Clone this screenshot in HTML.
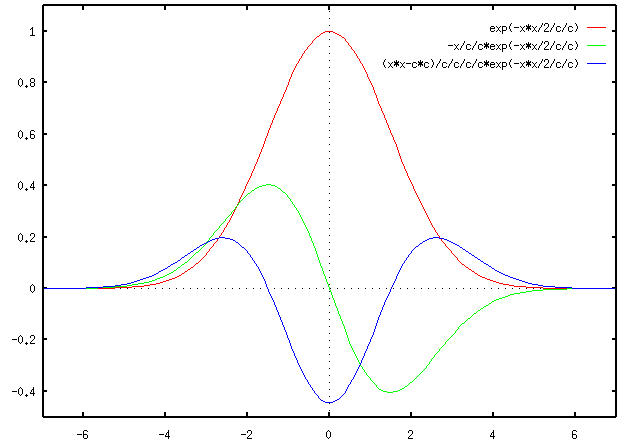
<!DOCTYPE html>
<html lang="en">
<head>
<meta charset="utf-8">
<title>Gaussian and its derivatives (gnuplot)</title>
<style>
html,body{margin:0;padding:0;background:#fff;}
body{width:626px;height:442px;overflow:hidden;font-family:"Liberation Mono",monospace;}
svg{display:block;}
.lbl text{font-family:"Liberation Mono",monospace;font-size:10px;fill:#000;fill-opacity:0;}
</style>
</head>
<body>
<svg width="626" height="442" viewBox="0 0 626 442" shape-rendering="crispEdges" role="img" aria-label="Plot of exp(-x*x/2/c/c) and its first and second derivatives for c=1.5">
<rect width="626" height="442" fill="#fff"/>
<g class="lbl">
<text x="36" y="35" text-anchor="end">1</text>
<text x="36" y="86" text-anchor="end">0.8</text>
<text x="36" y="138" text-anchor="end">0.6</text>
<text x="36" y="189" text-anchor="end">0.4</text>
<text x="36" y="241" text-anchor="end">0.2</text>
<text x="36" y="292" text-anchor="end">0</text>
<text x="36" y="343" text-anchor="end">-0.2</text>
<text x="36" y="395" text-anchor="end">-0.4</text>
<text x="83" y="438" text-anchor="middle">-6</text>
<text x="165" y="438" text-anchor="middle">-4</text>
<text x="247" y="438" text-anchor="middle">-2</text>
<text x="329" y="438" text-anchor="middle">0</text>
<text x="411" y="438" text-anchor="middle">2</text>
<text x="493" y="438" text-anchor="middle">4</text>
<text x="575" y="438" text-anchor="middle">6</text>
<text x="580" y="31" text-anchor="end">exp(-x*x/2/c/c)</text>
<text x="580" y="49" text-anchor="end">-x/c/c*exp(-x*x/2/c/c)</text>
<text x="580" y="67" text-anchor="end">(x*x-c*c)/c/c/c/c*exp(-x*x/2/c/c)</text>
</g>
<path id="curve-red" fill="#f00" d="M587 27h19v1h-19zM325 31h8v1h-8zM323 32h2v1h-2zM333 32h2v1h-2zM321 33h2v1h-2zM335 33h2v1h-2zM320 34h1v1h-1zM337 34h2v1h-2zM319 35h1v1h-1zM339 35h2v1h-2zM317 36h2v1h-2zM341 36h1v1h-1zM316 37h1v1h-1zM342 37h2v1h-2zM315 38h1v1h-1zM344 38h1v1h-1zM314 39h1v1h-1zM345 39h1v1h-1zM313 40h1v1h-1zM345 40h1v1h-1zM312 41h1v1h-1zM346 41h1v1h-1zM312 42h1v1h-1zM347 42h1v1h-1zM311 43h1v1h-1zM348 43h1v1h-1zM310 44h1v1h-1zM348 44h1v1h-1zM309 45h1v1h-1zM349 45h1v1h-1zM308 46h1v1h-1zM350 46h1v1h-1zM307 47h1v1h-1zM351 47h1v1h-1zM307 48h1v1h-1zM351 48h1v1h-1zM306 49h1v1h-1zM352 49h1v1h-1zM305 50h1v1h-1zM353 50h1v1h-1zM304 51h1v1h-1zM354 51h1v1h-1zM304 52h1v1h-1zM354 52h1v1h-1zM303 53h1v1h-1zM355 53h1v1h-1zM302 54h1v1h-1zM356 54h1v1h-1zM302 55h1v1h-1zM356 55h1v1h-1zM301 56h1v1h-1zM357 56h1v1h-1zM301 57h1v1h-1zM357 57h1v1h-1zM300 58h1v1h-1zM358 58h1v1h-1zM299 59h1v1h-1zM359 59h1v1h-1zM299 60h1v1h-1zM359 60h1v1h-1zM298 61h1v1h-1zM360 61h1v1h-1zM298 62h1v1h-1zM360 62h1v1h-1zM297 63h1v1h-1zM361 63h1v1h-1zM296 64h1v1h-1zM362 64h1v1h-1zM296 65h1v1h-1zM362 65h1v1h-1zM295 66h1v1h-1zM363 66h1v1h-1zM295 67h1v1h-1zM363 67h1v1h-1zM294 68h1v1h-1zM364 68h1v1h-1zM294 69h1v1h-1zM364 69h1v1h-1zM293 70h1v1h-1zM365 70h1v1h-1zM293 71h1v1h-1zM365 71h1v1h-1zM292 72h1v1h-1zM366 72h1v1h-1zM292 73h1v1h-1zM366 73h1v1h-1zM291 74h1v1h-1zM367 74h1v1h-1zM291 75h1v1h-1zM367 75h1v1h-1zM291 76h1v1h-1zM367 76h1v1h-1zM290 77h1v1h-1zM368 77h1v1h-1zM290 78h1v1h-1zM368 78h1v1h-1zM289 79h1v1h-1zM369 79h1v1h-1zM289 80h1v1h-1zM369 80h1v1h-1zM289 81h1v1h-1zM370 81h1v1h-1zM288 82h1v1h-1zM370 82h1v1h-1zM288 83h1v1h-1zM371 83h1v1h-1zM288 84h1v1h-1zM371 84h1v1h-1zM287 85h1v1h-1zM372 85h1v1h-1zM287 86h1v1h-1zM372 86h1v1h-1zM286 87h1v1h-1zM373 87h1v1h-1zM286 88h1v1h-1zM373 88h1v1h-1zM286 89h1v1h-1zM373 89h1v1h-1zM285 90h1v1h-1zM374 90h1v1h-1zM285 91h1v1h-1zM374 91h1v1h-1zM284 92h1v1h-1zM374 92h1v1h-1zM284 93h1v1h-1zM375 93h1v1h-1zM283 94h1v1h-1zM375 94h1v1h-1zM283 95h1v1h-1zM376 95h1v1h-1zM283 96h1v1h-1zM376 96h1v1h-1zM282 97h1v1h-1zM376 97h1v1h-1zM282 98h1v1h-1zM377 98h1v1h-1zM281 99h1v1h-1zM377 99h1v1h-1zM281 100h1v1h-1zM377 100h1v1h-1zM280 101h1v1h-1zM378 101h1v1h-1zM280 102h1v1h-1zM378 102h1v1h-1zM280 103h1v1h-1zM378 103h1v1h-1zM279 104h1v1h-1zM379 104h1v1h-1zM279 105h1v1h-1zM379 105h1v1h-1zM278 106h1v1h-1zM380 106h1v1h-1zM278 107h1v1h-1zM380 107h1v1h-1zM277 108h1v1h-1zM381 108h1v1h-1zM277 109h1v1h-1zM381 109h1v1h-1zM277 110h1v1h-1zM381 110h1v1h-1zM276 111h1v1h-1zM382 111h1v1h-1zM276 112h1v1h-1zM382 112h1v1h-1zM275 113h1v1h-1zM383 113h1v1h-1zM275 114h1v1h-1zM383 114h1v1h-1zM274 115h1v1h-1zM384 115h1v1h-1zM274 116h1v1h-1zM384 116h1v1h-1zM274 117h1v1h-1zM384 117h1v1h-1zM273 118h1v1h-1zM385 118h1v1h-1zM273 119h1v1h-1zM385 119h1v1h-1zM272 120h1v1h-1zM386 120h1v1h-1zM272 121h1v1h-1zM386 121h1v1h-1zM272 122h1v1h-1zM386 122h1v1h-1zM271 123h1v1h-1zM387 123h1v1h-1zM271 124h1v1h-1zM387 124h1v1h-1zM270 125h1v1h-1zM388 125h1v1h-1zM270 126h1v1h-1zM388 126h1v1h-1zM270 127h1v1h-1zM388 127h1v1h-1zM269 128h1v1h-1zM389 128h1v1h-1zM269 129h1v1h-1zM389 129h1v1h-1zM268 130h1v1h-1zM390 130h1v1h-1zM268 131h1v1h-1zM390 131h1v1h-1zM268 132h1v1h-1zM390 132h1v1h-1zM267 133h1v1h-1zM391 133h1v1h-1zM267 134h1v1h-1zM391 134h1v1h-1zM267 135h1v1h-1zM392 135h1v1h-1zM266 136h1v1h-1zM392 136h1v1h-1zM266 137h1v1h-1zM393 137h1v1h-1zM265 138h1v1h-1zM393 138h1v1h-1zM265 139h1v1h-1zM393 139h1v1h-1zM265 140h1v1h-1zM394 140h1v1h-1zM264 141h1v1h-1zM394 141h1v1h-1zM264 142h1v1h-1zM395 142h1v1h-1zM264 143h1v1h-1zM395 143h1v1h-1zM263 144h1v1h-1zM396 144h1v1h-1zM263 145h1v1h-1zM396 145h1v1h-1zM263 146h1v1h-1zM396 146h1v1h-1zM262 147h1v1h-1zM397 147h1v1h-1zM262 148h1v1h-1zM397 148h1v1h-1zM261 149h1v1h-1zM397 149h1v1h-1zM261 150h1v1h-1zM398 150h1v1h-1zM261 151h1v1h-1zM398 151h1v1h-1zM260 152h1v1h-1zM398 152h1v1h-1zM260 153h1v1h-1zM399 153h1v1h-1zM259 154h1v1h-1zM399 154h1v1h-1zM259 155h1v1h-1zM399 155h1v1h-1zM259 156h1v1h-1zM400 156h1v1h-1zM258 157h1v1h-1zM400 157h1v1h-1zM258 158h1v1h-1zM400 158h1v1h-1zM257 159h1v1h-1zM401 159h1v1h-1zM257 160h1v1h-1zM401 160h1v1h-1zM257 161h1v1h-1zM401 161h1v1h-1zM256 162h1v1h-1zM402 162h1v1h-1zM256 163h1v1h-1zM402 163h1v1h-1zM255 164h1v1h-1zM403 164h1v1h-1zM255 165h1v1h-1zM403 165h1v1h-1zM254 166h1v1h-1zM404 166h1v1h-1zM254 167h1v1h-1zM404 167h1v1h-1zM254 168h1v1h-1zM404 168h1v1h-1zM253 169h1v1h-1zM405 169h1v1h-1zM253 170h1v1h-1zM405 170h1v1h-1zM252 171h1v1h-1zM406 171h1v1h-1zM252 172h1v1h-1zM406 172h1v1h-1zM251 173h1v1h-1zM407 173h1v1h-1zM251 174h1v1h-1zM407 174h1v1h-1zM251 175h1v1h-1zM407 175h1v1h-1zM250 176h1v1h-1zM408 176h1v1h-1zM250 177h1v1h-1zM408 177h1v1h-1zM249 178h1v1h-1zM409 178h1v1h-1zM249 179h1v1h-1zM409 179h1v1h-1zM248 180h1v1h-1zM410 180h1v1h-1zM248 181h1v1h-1zM410 181h1v1h-1zM247 182h1v1h-1zM411 182h1v1h-1zM247 183h1v1h-1zM411 183h1v1h-1zM246 184h1v1h-1zM412 184h1v1h-1zM246 185h1v1h-1zM412 185h1v1h-1zM245 186h1v1h-1zM413 186h1v1h-1zM245 187h1v1h-1zM413 187h1v1h-1zM245 188h1v1h-1zM413 188h1v1h-1zM244 189h1v1h-1zM414 189h1v1h-1zM244 190h1v1h-1zM414 190h1v1h-1zM243 191h1v1h-1zM415 191h1v1h-1zM243 192h1v1h-1zM415 192h1v1h-1zM242 193h1v1h-1zM416 193h1v1h-1zM242 194h1v1h-1zM416 194h1v1h-1zM241 195h1v1h-1zM417 195h1v1h-1zM241 196h1v1h-1zM417 196h1v1h-1zM240 197h1v1h-1zM418 197h1v1h-1zM240 198h1v1h-1zM418 198h1v1h-1zM239 199h1v1h-1zM419 199h1v1h-1zM239 200h1v1h-1zM419 200h1v1h-1zM239 201h1v1h-1zM420 201h1v1h-1zM238 202h1v1h-1zM420 202h1v1h-1zM421 203h1v1h-1zM237 204h1v1h-1zM421 204h1v1h-1zM422 205h1v1h-1zM422 206h1v1h-1zM236 207h1v1h-1zM423 207h1v1h-1zM423 208h1v1h-1zM235 209h1v1h-1zM424 209h1v1h-1zM234 210h1v1h-1zM424 210h1v1h-1zM234 211h1v1h-1zM425 211h1v1h-1zM233 212h1v1h-1zM425 212h1v1h-1zM233 213h1v1h-1zM426 213h1v1h-1zM232 214h1v1h-1zM426 214h1v1h-1zM232 215h1v1h-1zM427 215h1v1h-1zM231 216h1v1h-1zM427 216h1v1h-1zM231 217h1v1h-1zM428 217h1v1h-1zM230 218h1v1h-1zM428 218h1v1h-1zM230 219h1v1h-1zM429 219h1v1h-1zM229 220h1v1h-1zM429 220h1v1h-1zM229 221h1v1h-1zM430 221h1v1h-1zM228 222h1v1h-1zM430 222h1v1h-1zM227 223h1v1h-1zM431 223h1v1h-1zM227 224h1v1h-1zM431 224h1v1h-1zM226 225h1v1h-1zM432 225h1v1h-1zM226 226h1v1h-1zM432 226h1v1h-1zM225 227h1v1h-1zM433 227h1v1h-1zM224 228h1v1h-1zM434 228h1v1h-1zM224 229h1v1h-1zM434 229h1v1h-1zM223 230h1v1h-1zM435 230h1v1h-1zM223 231h1v1h-1zM435 231h1v1h-1zM222 232h1v1h-1zM436 232h1v1h-1zM221 233h1v1h-1zM437 233h1v1h-1zM221 234h1v1h-1zM437 234h1v1h-1zM220 235h1v1h-1zM438 235h1v1h-1zM219 236h1v1h-1zM439 236h1v1h-1zM439 237h1v1h-1zM217 239h1v1h-1zM441 239h1v1h-1zM217 240h1v1h-1zM441 240h1v1h-1zM216 241h1v1h-1zM442 241h1v1h-1zM215 242h1v1h-1zM443 242h1v1h-1zM214 243h1v1h-1zM444 243h1v1h-1zM213 244h1v1h-1zM445 244h1v1h-1zM213 245h1v1h-1zM445 245h1v1h-1zM212 246h1v1h-1zM446 246h1v1h-1zM211 247h1v1h-1zM447 247h1v1h-1zM210 248h1v1h-1zM448 248h1v1h-1zM209 249h1v1h-1zM449 249h1v1h-1zM209 250h1v1h-1zM450 250h1v1h-1zM208 251h1v1h-1zM451 251h1v1h-1zM207 252h1v1h-1zM451 252h1v1h-1zM206 253h1v1h-1zM452 253h1v1h-1zM206 254h1v1h-1zM453 254h1v1h-1zM205 255h1v1h-1zM454 255h1v1h-1zM204 256h1v1h-1zM455 256h1v1h-1zM203 257h1v1h-1zM456 257h1v1h-1zM202 258h1v1h-1zM457 258h1v1h-1zM201 259h1v1h-1zM457 259h1v1h-1zM200 260h1v1h-1zM458 260h1v1h-1zM199 261h1v1h-1zM459 261h1v1h-1zM198 262h1v1h-1zM460 262h1v1h-1zM196 263h2v1h-2zM461 263h1v1h-1zM195 264h1v1h-1zM462 264h2v1h-2zM194 265h1v1h-1zM464 265h1v1h-1zM193 266h1v1h-1zM465 266h1v1h-1zM191 267h2v1h-2zM466 267h2v1h-2zM190 268h1v1h-1zM468 268h1v1h-1zM188 269h2v1h-2zM469 269h2v1h-2zM187 270h1v1h-1zM471 270h1v1h-1zM185 271h2v1h-2zM472 271h2v1h-2zM184 272h1v1h-1zM474 272h1v1h-1zM182 273h2v1h-2zM475 273h2v1h-2zM181 274h1v1h-1zM477 274h1v1h-1zM179 275h2v1h-2zM478 275h2v1h-2zM177 276h2v1h-2zM480 276h2v1h-2zM175 277h2v1h-2zM482 277h3v1h-3zM172 278h3v1h-3zM485 278h2v1h-2zM169 279h3v1h-3zM487 279h3v1h-3zM166 280h3v1h-3zM490 280h3v1h-3zM163 281h3v1h-3zM493 281h3v1h-3zM160 282h3v1h-3zM496 282h3v1h-3zM156 283h4v1h-4zM499 283h4v1h-4zM150 284h6v1h-6zM503 284h6v1h-6zM144 285h6v1h-6zM509 285h5v1h-5zM132 286h12v1h-12zM514 286h12v1h-12zM115 287h17v1h-17zM526 287h17v1h-17zM98 288h17v1h-17zM543 288h24v1h-24z"/>
<path id="curve-green" fill="#0f0" d="M587 45h19v1h-19zM266 184h5v1h-5zM262 185h4v1h-4zM271 185h4v1h-4zM259 186h3v1h-3zM275 186h2v1h-2zM257 187h2v1h-2zM277 187h1v1h-1zM255 188h2v1h-2zM278 188h2v1h-2zM254 189h1v1h-1zM280 189h1v1h-1zM252 190h2v1h-2zM281 190h1v1h-1zM251 191h1v1h-1zM282 191h1v1h-1zM250 192h1v1h-1zM283 192h2v1h-2zM248 193h2v1h-2zM285 193h1v1h-1zM247 194h1v1h-1zM286 194h1v1h-1zM246 195h1v1h-1zM287 195h1v1h-1zM245 196h1v1h-1zM287 196h1v1h-1zM244 197h1v1h-1zM288 197h1v1h-1zM243 198h1v1h-1zM289 198h1v1h-1zM242 199h1v1h-1zM290 199h1v1h-1zM241 200h1v1h-1zM290 200h1v1h-1zM240 201h1v1h-1zM291 201h1v1h-1zM239 202h1v1h-1zM292 202h1v1h-1zM238 203h1v1h-1zM292 203h1v1h-1zM238 204h1v1h-1zM293 204h1v1h-1zM237 205h1v1h-1zM294 205h1v1h-1zM236 206h1v1h-1zM294 206h1v1h-1zM235 207h1v1h-1zM295 207h1v1h-1zM235 208h1v1h-1zM296 208h1v1h-1zM234 209h1v1h-1zM296 209h1v1h-1zM233 210h1v1h-1zM297 210h1v1h-1zM232 211h1v1h-1zM298 211h1v1h-1zM231 212h1v1h-1zM298 212h1v1h-1zM231 213h1v1h-1zM299 213h1v1h-1zM230 214h1v1h-1zM299 214h1v1h-1zM229 215h1v1h-1zM300 215h1v1h-1zM228 216h1v1h-1zM300 216h1v1h-1zM227 217h1v1h-1zM301 217h1v1h-1zM226 218h1v1h-1zM301 218h1v1h-1zM225 219h1v1h-1zM302 219h1v1h-1zM225 220h1v1h-1zM302 220h1v1h-1zM224 221h1v1h-1zM303 221h1v1h-1zM223 222h1v1h-1zM303 222h1v1h-1zM222 223h1v1h-1zM304 223h1v1h-1zM221 224h1v1h-1zM304 224h1v1h-1zM220 225h1v1h-1zM305 225h1v1h-1zM219 226h1v1h-1zM305 226h1v1h-1zM219 227h1v1h-1zM306 227h1v1h-1zM218 228h1v1h-1zM306 228h1v1h-1zM217 229h1v1h-1zM307 229h1v1h-1zM216 230h1v1h-1zM307 230h1v1h-1zM215 231h1v1h-1zM308 231h1v1h-1zM214 232h1v1h-1zM308 232h1v1h-1zM213 233h1v1h-1zM309 233h1v1h-1zM213 234h1v1h-1zM309 234h1v1h-1zM212 235h1v1h-1zM309 235h1v1h-1zM211 236h1v1h-1zM310 236h1v1h-1zM210 237h1v1h-1zM310 237h1v1h-1zM209 238h1v1h-1zM311 238h1v1h-1zM209 239h1v1h-1zM311 239h1v1h-1zM208 240h1v1h-1zM311 240h1v1h-1zM207 241h1v1h-1zM312 241h1v1h-1zM312 242h1v1h-1zM206 243h1v1h-1zM313 243h1v1h-1zM205 244h1v1h-1zM313 244h1v1h-1zM204 245h1v1h-1zM313 245h1v1h-1zM203 246h1v1h-1zM314 246h1v1h-1zM202 247h1v1h-1zM314 247h1v1h-1zM201 248h1v1h-1zM315 248h1v1h-1zM200 249h1v1h-1zM315 249h1v1h-1zM199 250h1v1h-1zM315 250h1v1h-1zM198 251h1v1h-1zM316 251h1v1h-1zM196 252h2v1h-2zM316 252h1v1h-1zM195 253h1v1h-1zM316 253h1v1h-1zM194 254h1v1h-1zM317 254h1v1h-1zM193 255h1v1h-1zM317 255h1v1h-1zM192 256h1v1h-1zM317 256h1v1h-1zM191 257h1v1h-1zM318 257h1v1h-1zM190 258h1v1h-1zM318 258h1v1h-1zM189 259h1v1h-1zM318 259h1v1h-1zM188 260h1v1h-1zM319 260h1v1h-1zM187 261h1v1h-1zM319 261h1v1h-1zM185 262h2v1h-2zM319 262h1v1h-1zM184 263h1v1h-1zM320 263h1v1h-1zM182 264h2v1h-2zM320 264h1v1h-1zM181 265h1v1h-1zM320 265h1v1h-1zM180 266h1v1h-1zM321 266h1v1h-1zM178 267h2v1h-2zM321 267h1v1h-1zM177 268h1v1h-1zM322 268h1v1h-1zM176 269h1v1h-1zM322 269h1v1h-1zM174 270h2v1h-2zM322 270h1v1h-1zM173 271h1v1h-1zM323 271h1v1h-1zM171 272h2v1h-2zM323 272h1v1h-1zM169 273h2v1h-2zM323 273h1v1h-1zM167 274h2v1h-2zM324 274h1v1h-1zM165 275h2v1h-2zM324 275h1v1h-1zM163 276h2v1h-2zM325 276h1v1h-1zM160 277h3v1h-3zM325 277h1v1h-1zM157 278h3v1h-3zM325 278h1v1h-1zM155 279h2v1h-2zM326 279h1v1h-1zM152 280h3v1h-3zM326 280h1v1h-1zM149 281h3v1h-3zM326 281h1v1h-1zM144 282h5v1h-5zM327 282h1v1h-1zM138 283h6v1h-6zM327 283h1v1h-1zM132 284h6v1h-6zM328 284h1v1h-1zM127 285h5v1h-5zM328 285h1v1h-1zM115 286h12v1h-12zM328 286h1v1h-1zM103 287h12v1h-12zM329 287h1v1h-1zM86 288h12v1h-12zM329 288h1v1h-1zM567 288h5v1h-5zM329 289h1v1h-1zM543 289h24v1h-24zM330 290h1v1h-1zM532 290h11v1h-11zM330 291h1v1h-1zM526 291h6v1h-6zM331 292h1v1h-1zM520 292h6v1h-6zM331 293h1v1h-1zM514 293h6v1h-6zM331 294h1v1h-1zM510 294h4v1h-4zM332 295h1v1h-1zM508 295h2v1h-2zM332 296h1v1h-1zM505 296h3v1h-3zM332 297h1v1h-1zM502 297h3v1h-3zM333 298h1v1h-1zM499 298h3v1h-3zM333 299h1v1h-1zM496 299h3v1h-3zM334 300h1v1h-1zM494 300h2v1h-2zM334 301h1v1h-1zM492 301h2v1h-2zM334 302h1v1h-1zM491 302h1v1h-1zM335 303h1v1h-1zM489 303h2v1h-2zM335 304h1v1h-1zM488 304h1v1h-1zM335 305h1v1h-1zM486 305h2v1h-2zM336 306h1v1h-1zM484 306h2v1h-2zM336 307h1v1h-1zM483 307h1v1h-1zM337 308h1v1h-1zM481 308h2v1h-2zM337 309h1v1h-1zM480 309h1v1h-1zM337 310h1v1h-1zM478 310h2v1h-2zM338 311h1v1h-1zM477 311h1v1h-1zM338 312h1v1h-1zM476 312h1v1h-1zM338 313h1v1h-1zM474 313h2v1h-2zM339 314h1v1h-1zM473 314h1v1h-1zM339 315h1v1h-1zM472 315h1v1h-1zM340 316h1v1h-1zM471 316h1v1h-1zM340 317h1v1h-1zM470 317h1v1h-1zM340 318h1v1h-1zM468 318h2v1h-2zM341 319h1v1h-1zM467 319h1v1h-1zM341 320h1v1h-1zM466 320h1v1h-1zM342 321h1v1h-1zM465 321h1v1h-1zM342 322h1v1h-1zM464 322h1v1h-1zM342 323h1v1h-1zM462 323h2v1h-2zM343 324h1v1h-1zM461 324h1v1h-1zM343 325h1v1h-1zM460 325h1v1h-1zM344 326h1v1h-1zM459 326h1v1h-1zM344 327h1v1h-1zM458 327h1v1h-1zM344 328h1v1h-1zM458 328h1v1h-1zM345 329h1v1h-1zM457 329h1v1h-1zM345 330h1v1h-1zM456 330h1v1h-1zM345 331h1v1h-1zM455 331h1v1h-1zM346 332h1v1h-1zM455 332h1v1h-1zM346 333h1v1h-1zM454 333h1v1h-1zM346 334h1v1h-1zM453 334h1v1h-1zM347 335h1v1h-1zM452 335h1v1h-1zM347 336h1v1h-1zM451 336h1v1h-1zM347 337h1v1h-1zM450 337h1v1h-1zM348 338h1v1h-1zM449 338h1v1h-1zM348 339h1v1h-1zM448 339h1v1h-1zM348 340h1v1h-1zM447 340h1v1h-1zM349 341h1v1h-1zM446 341h1v1h-1zM349 342h1v1h-1zM445 342h1v1h-1zM349 343h1v1h-1zM445 343h1v1h-1zM350 344h1v1h-1zM444 344h1v1h-1zM350 345h1v1h-1zM443 345h1v1h-1zM351 346h1v1h-1zM442 346h1v1h-1zM351 347h1v1h-1zM441 347h1v1h-1zM352 348h1v1h-1zM440 348h1v1h-1zM352 349h1v1h-1zM439 349h1v1h-1zM353 350h1v1h-1zM439 350h1v1h-1zM353 351h1v1h-1zM438 351h1v1h-1zM354 352h1v1h-1zM437 352h1v1h-1zM354 353h1v1h-1zM436 353h1v1h-1zM355 354h1v1h-1zM435 354h1v1h-1zM355 355h1v1h-1zM434 355h1v1h-1zM356 356h1v1h-1zM434 356h1v1h-1zM356 357h1v1h-1zM433 357h1v1h-1zM357 358h1v1h-1zM432 358h1v1h-1zM357 359h1v1h-1zM431 359h1v1h-1zM358 360h1v1h-1zM431 360h1v1h-1zM358 361h1v1h-1zM430 361h1v1h-1zM359 362h1v1h-1zM429 362h1v1h-1zM359 363h1v1h-1zM429 363h1v1h-1zM428 364h1v1h-1zM360 365h1v1h-1zM427 365h1v1h-1zM361 366h1v1h-1zM426 366h1v1h-1zM362 367h1v1h-1zM426 367h1v1h-1zM362 368h1v1h-1zM425 368h1v1h-1zM363 369h1v1h-1zM424 369h1v1h-1zM364 370h1v1h-1zM423 370h1v1h-1zM364 371h1v1h-1zM422 371h1v1h-1zM365 372h1v1h-1zM421 372h1v1h-1zM366 373h1v1h-1zM420 373h1v1h-1zM366 374h1v1h-1zM419 374h1v1h-1zM367 375h1v1h-1zM418 375h1v1h-1zM368 376h1v1h-1zM417 376h1v1h-1zM369 377h1v1h-1zM416 377h1v1h-1zM370 378h1v1h-1zM415 378h1v1h-1zM370 379h1v1h-1zM414 379h1v1h-1zM371 380h1v1h-1zM413 380h1v1h-1zM372 381h1v1h-1zM412 381h1v1h-1zM373 382h1v1h-1zM410 382h2v1h-2zM374 383h1v1h-1zM409 383h1v1h-1zM375 384h1v1h-1zM408 384h1v1h-1zM376 385h1v1h-1zM407 385h1v1h-1zM376 386h1v1h-1zM405 386h2v1h-2zM377 387h1v1h-1zM404 387h1v1h-1zM378 388h1v1h-1zM402 388h2v1h-2zM379 389h2v1h-2zM400 389h2v1h-2zM381 390h2v1h-2zM398 390h2v1h-2zM383 391h4v1h-4zM393 391h5v1h-5zM387 392h6v1h-6z"/>
<path id="curve-blue" fill="#00f" d="M587 63h19v1h-19zM219 237h6v1h-6zM433 237h6v1h-6zM215 238h4v1h-4zM225 238h5v1h-5zM429 238h4v1h-4zM439 238h5v1h-5zM212 239h3v1h-3zM230 239h3v1h-3zM427 239h2v1h-2zM444 239h3v1h-3zM210 240h2v1h-2zM233 240h2v1h-2zM425 240h2v1h-2zM447 240h2v1h-2zM208 241h2v1h-2zM235 241h1v1h-1zM423 241h2v1h-2zM449 241h2v1h-2zM206 242h2v1h-2zM236 242h2v1h-2zM422 242h1v1h-1zM451 242h2v1h-2zM204 243h2v1h-2zM238 243h1v1h-1zM420 243h2v1h-2zM453 243h2v1h-2zM202 244h2v1h-2zM239 244h1v1h-1zM419 244h1v1h-1zM455 244h2v1h-2zM200 245h2v1h-2zM240 245h1v1h-1zM418 245h1v1h-1zM457 245h2v1h-2zM199 246h1v1h-1zM241 246h1v1h-1zM416 246h2v1h-2zM459 246h1v1h-1zM197 247h2v1h-2zM242 247h2v1h-2zM415 247h1v1h-1zM460 247h2v1h-2zM196 248h1v1h-1zM244 248h1v1h-1zM414 248h1v1h-1zM462 248h1v1h-1zM194 249h2v1h-2zM245 249h1v1h-1zM413 249h1v1h-1zM463 249h2v1h-2zM193 250h1v1h-1zM246 250h1v1h-1zM412 250h1v1h-1zM465 250h1v1h-1zM191 251h2v1h-2zM247 251h1v1h-1zM411 251h1v1h-1zM466 251h2v1h-2zM190 252h1v1h-1zM247 252h1v1h-1zM411 252h1v1h-1zM468 252h1v1h-1zM188 253h2v1h-2zM248 253h1v1h-1zM410 253h1v1h-1zM469 253h2v1h-2zM187 254h1v1h-1zM249 254h1v1h-1zM409 254h1v1h-1zM471 254h1v1h-1zM185 255h2v1h-2zM250 255h1v1h-1zM408 255h1v1h-1zM472 255h2v1h-2zM184 256h1v1h-1zM250 256h1v1h-1zM408 256h1v1h-1zM474 256h1v1h-1zM182 257h2v1h-2zM251 257h1v1h-1zM407 257h1v1h-1zM475 257h2v1h-2zM181 258h1v1h-1zM252 258h1v1h-1zM406 258h1v1h-1zM477 258h1v1h-1zM180 259h1v1h-1zM252 259h1v1h-1zM406 259h1v1h-1zM478 259h2v1h-2zM178 260h2v1h-2zM253 260h1v1h-1zM405 260h1v1h-1zM480 260h1v1h-1zM177 261h1v1h-1zM254 261h1v1h-1zM404 261h1v1h-1zM481 261h2v1h-2zM175 262h2v1h-2zM254 262h1v1h-1zM404 262h1v1h-1zM483 262h1v1h-1zM173 263h2v1h-2zM255 263h1v1h-1zM403 263h1v1h-1zM484 263h2v1h-2zM171 264h2v1h-2zM256 264h1v1h-1zM402 264h1v1h-1zM486 264h2v1h-2zM170 265h1v1h-1zM256 265h1v1h-1zM402 265h1v1h-1zM488 265h1v1h-1zM168 266h2v1h-2zM257 266h1v1h-1zM401 266h1v1h-1zM489 266h2v1h-2zM167 267h1v1h-1zM258 267h1v1h-1zM401 267h1v1h-1zM491 267h1v1h-1zM165 268h2v1h-2zM258 268h1v1h-1zM400 268h1v1h-1zM492 268h2v1h-2zM163 269h2v1h-2zM259 269h1v1h-1zM400 269h1v1h-1zM494 269h1v1h-1zM161 270h2v1h-2zM259 270h1v1h-1zM399 270h1v1h-1zM495 270h2v1h-2zM159 271h2v1h-2zM260 271h1v1h-1zM399 271h1v1h-1zM497 271h2v1h-2zM158 272h1v1h-1zM260 272h1v1h-1zM398 272h1v1h-1zM499 272h2v1h-2zM156 273h2v1h-2zM261 273h1v1h-1zM398 273h1v1h-1zM501 273h2v1h-2zM154 274h2v1h-2zM261 274h1v1h-1zM397 274h1v1h-1zM503 274h2v1h-2zM152 275h2v1h-2zM262 275h1v1h-1zM397 275h1v1h-1zM505 275h3v1h-3zM149 276h3v1h-3zM262 276h1v1h-1zM396 276h1v1h-1zM508 276h2v1h-2zM146 277h3v1h-3zM263 277h1v1h-1zM396 277h1v1h-1zM510 277h3v1h-3zM143 278h3v1h-3zM263 278h1v1h-1zM396 278h1v1h-1zM513 278h3v1h-3zM140 279h3v1h-3zM264 279h1v1h-1zM395 279h1v1h-1zM516 279h3v1h-3zM137 280h3v1h-3zM264 280h1v1h-1zM395 280h1v1h-1zM519 280h3v1h-3zM134 281h3v1h-3zM265 281h1v1h-1zM394 281h1v1h-1zM522 281h3v1h-3zM131 282h3v1h-3zM265 282h1v1h-1zM394 282h1v1h-1zM525 282h3v1h-3zM127 283h4v1h-4zM265 283h1v1h-1zM393 283h1v1h-1zM528 283h4v1h-4zM121 284h6v1h-6zM266 284h1v1h-1zM393 284h1v1h-1zM532 284h6v1h-6zM115 285h6v1h-6zM266 285h1v1h-1zM392 285h1v1h-1zM538 285h5v1h-5zM103 286h12v1h-12zM266 286h1v1h-1zM392 286h1v1h-1zM543 286h12v1h-12zM86 287h17v1h-17zM267 287h1v1h-1zM391 287h1v1h-1zM555 287h17v1h-17zM44 288h42v1h-42zM267 288h1v1h-1zM391 288h1v1h-1zM572 288h43v1h-43zM268 289h1v1h-1zM390 289h1v1h-1zM268 290h1v1h-1zM390 290h1v1h-1zM268 291h1v1h-1zM390 291h1v1h-1zM269 292h1v1h-1zM389 292h1v1h-1zM269 293h1v1h-1zM389 293h1v1h-1zM270 294h1v1h-1zM388 294h1v1h-1zM270 295h1v1h-1zM388 295h1v1h-1zM271 296h1v1h-1zM387 296h1v1h-1zM271 297h1v1h-1zM387 297h1v1h-1zM272 298h1v1h-1zM386 298h1v1h-1zM272 299h1v1h-1zM386 299h1v1h-1zM273 300h1v1h-1zM385 300h1v1h-1zM273 301h1v1h-1zM385 301h1v1h-1zM274 302h1v1h-1zM384 302h1v1h-1zM274 303h1v1h-1zM384 303h1v1h-1zM274 304h1v1h-1zM384 304h1v1h-1zM275 305h1v1h-1zM383 305h1v1h-1zM275 306h1v1h-1zM383 306h1v1h-1zM276 307h1v1h-1zM382 307h1v1h-1zM276 308h1v1h-1zM382 308h1v1h-1zM276 309h1v1h-1zM382 309h1v1h-1zM277 310h1v1h-1zM381 310h1v1h-1zM277 311h1v1h-1zM381 311h1v1h-1zM278 312h1v1h-1zM380 312h1v1h-1zM278 313h1v1h-1zM380 313h1v1h-1zM278 314h1v1h-1zM380 314h1v1h-1zM279 315h1v1h-1zM379 315h1v1h-1zM279 316h1v1h-1zM379 316h1v1h-1zM280 317h1v1h-1zM378 317h1v1h-1zM280 318h1v1h-1zM378 318h1v1h-1zM280 319h1v1h-1zM378 319h1v1h-1zM281 320h1v1h-1zM377 320h1v1h-1zM281 321h1v1h-1zM377 321h1v1h-1zM282 322h1v1h-1zM377 322h1v1h-1zM282 323h1v1h-1zM376 323h1v1h-1zM282 324h1v1h-1zM376 324h1v1h-1zM283 325h1v1h-1zM376 325h1v1h-1zM283 326h1v1h-1zM375 326h1v1h-1zM284 327h1v1h-1zM375 327h1v1h-1zM284 328h1v1h-1zM375 328h1v1h-1zM284 329h1v1h-1zM374 329h1v1h-1zM285 330h1v1h-1zM374 330h1v1h-1zM285 331h1v1h-1zM374 331h1v1h-1zM286 332h1v1h-1zM373 332h1v1h-1zM286 333h1v1h-1zM373 333h1v1h-1zM286 334h1v1h-1zM373 334h1v1h-1zM287 335h1v1h-1zM372 335h1v1h-1zM287 336h1v1h-1zM372 336h1v1h-1zM287 337h1v1h-1zM371 337h1v1h-1zM288 338h1v1h-1zM371 338h1v1h-1zM288 339h1v1h-1zM370 339h1v1h-1zM289 340h1v1h-1zM370 340h1v1h-1zM289 341h1v1h-1zM370 341h1v1h-1zM289 342h1v1h-1zM369 342h1v1h-1zM290 343h1v1h-1zM369 343h1v1h-1zM290 344h1v1h-1zM368 344h1v1h-1zM290 345h1v1h-1zM368 345h1v1h-1zM291 346h1v1h-1zM367 346h1v1h-1zM291 347h1v1h-1zM367 347h1v1h-1zM291 348h1v1h-1zM367 348h1v1h-1zM292 349h1v1h-1zM366 349h1v1h-1zM292 350h1v1h-1zM366 350h1v1h-1zM293 351h1v1h-1zM365 351h1v1h-1zM293 352h1v1h-1zM365 352h1v1h-1zM294 353h1v1h-1zM364 353h1v1h-1zM294 354h1v1h-1zM364 354h1v1h-1zM294 355h1v1h-1zM364 355h1v1h-1zM295 356h1v1h-1zM363 356h1v1h-1zM295 357h1v1h-1zM363 357h1v1h-1zM296 358h1v1h-1zM362 358h1v1h-1zM296 359h1v1h-1zM362 359h1v1h-1zM297 360h1v1h-1zM361 360h1v1h-1zM297 361h1v1h-1zM361 361h1v1h-1zM297 362h1v1h-1zM361 362h1v1h-1zM298 363h1v1h-1zM360 363h1v1h-1zM298 364h1v1h-1zM360 364h1v1h-1zM299 365h1v1h-1zM359 365h1v1h-1zM299 366h1v1h-1zM359 366h1v1h-1zM300 367h1v1h-1zM358 367h1v1h-1zM300 368h1v1h-1zM358 368h1v1h-1zM301 369h1v1h-1zM357 369h1v1h-1zM301 370h1v1h-1zM357 370h1v1h-1zM302 371h1v1h-1zM356 371h1v1h-1zM302 372h1v1h-1zM356 372h1v1h-1zM303 373h1v1h-1zM355 373h1v1h-1zM303 374h1v1h-1zM355 374h1v1h-1zM304 375h1v1h-1zM354 375h1v1h-1zM304 376h1v1h-1zM354 376h1v1h-1zM305 377h1v1h-1zM353 377h1v1h-1zM305 378h1v1h-1zM353 378h1v1h-1zM306 379h1v1h-1zM352 379h1v1h-1zM307 380h1v1h-1zM351 380h1v1h-1zM307 381h1v1h-1zM351 381h1v1h-1zM308 382h1v1h-1zM350 382h1v1h-1zM308 383h1v1h-1zM350 383h1v1h-1zM309 384h1v1h-1zM349 384h1v1h-1zM310 385h1v1h-1zM348 385h1v1h-1zM310 386h1v1h-1zM348 386h1v1h-1zM311 387h1v1h-1zM347 387h1v1h-1zM312 388h1v1h-1zM347 388h1v1h-1zM312 389h1v1h-1zM346 389h1v1h-1zM313 390h1v1h-1zM346 390h1v1h-1zM314 391h1v1h-1zM345 391h1v1h-1zM314 392h1v1h-1zM345 392h1v1h-1zM315 393h1v1h-1zM344 393h1v1h-1zM316 394h1v1h-1zM343 394h1v1h-1zM317 395h1v1h-1zM342 395h1v1h-1zM318 396h1v1h-1zM341 396h1v1h-1zM318 397h1v1h-1zM340 397h1v1h-1zM319 398h1v1h-1zM339 398h1v1h-1zM320 399h1v1h-1zM337 399h2v1h-2zM321 400h2v1h-2zM335 400h2v1h-2zM323 401h2v1h-2zM333 401h2v1h-2zM325 402h8v1h-8z"/>
<path id="axes-and-labels" fill="#000" d="M43 4h573v1h-573zM42 5h575v1h-575zM42 6h2v1h-2zM82 6h2v1h-2zM164 6h2v1h-2zM246 6h2v1h-2zM328 6h2v1h-2zM410 6h2v1h-2zM492 6h2v1h-2zM574 6h2v1h-2zM615 6h2v1h-2zM42 7h2v1h-2zM82 7h2v1h-2zM164 7h2v1h-2zM246 7h2v1h-2zM328 7h2v1h-2zM410 7h2v1h-2zM492 7h2v1h-2zM574 7h2v1h-2zM615 7h2v1h-2zM42 8h2v1h-2zM82 8h2v1h-2zM164 8h2v1h-2zM246 8h2v1h-2zM328 8h2v1h-2zM410 8h2v1h-2zM492 8h2v1h-2zM574 8h2v1h-2zM615 8h2v1h-2zM42 9h2v1h-2zM82 9h2v1h-2zM164 9h2v1h-2zM246 9h2v1h-2zM328 9h2v1h-2zM410 9h2v1h-2zM492 9h2v1h-2zM574 9h2v1h-2zM615 9h2v1h-2zM42 10h2v1h-2zM615 10h2v1h-2zM42 11h2v1h-2zM329 11h1v1h-1zM615 11h2v1h-2zM42 12h2v1h-2zM615 12h2v1h-2zM42 13h2v1h-2zM615 13h2v1h-2zM42 14h2v1h-2zM615 14h2v1h-2zM42 15h2v1h-2zM615 15h2v1h-2zM42 16h2v1h-2zM615 16h2v1h-2zM42 17h2v1h-2zM615 17h2v1h-2zM42 18h2v1h-2zM329 18h1v1h-1zM615 18h2v1h-2zM42 19h2v1h-2zM615 19h2v1h-2zM42 20h2v1h-2zM615 20h2v1h-2zM42 21h2v1h-2zM615 21h2v1h-2zM42 22h2v1h-2zM615 22h2v1h-2zM42 23h2v1h-2zM511 23h1v1h-1zM542 23h1v1h-1zM545 23h3v1h-3zM554 23h1v1h-1zM566 23h1v1h-1zM575 23h1v1h-1zM615 23h2v1h-2zM42 24h2v1h-2zM510 24h1v1h-1zM528 24h1v1h-1zM542 24h1v1h-1zM544 24h1v1h-1zM548 24h1v1h-1zM554 24h1v1h-1zM566 24h1v1h-1zM576 24h1v1h-1zM615 24h2v1h-2zM42 25h2v1h-2zM329 25h1v1h-1zM510 25h1v1h-1zM526 25h1v1h-1zM528 25h1v1h-1zM530 25h1v1h-1zM541 25h1v1h-1zM544 25h1v1h-1zM548 25h1v1h-1zM553 25h1v1h-1zM565 25h1v1h-1zM576 25h1v1h-1zM615 25h2v1h-2zM42 26h2v1h-2zM491 26h3v1h-3zM496 26h1v1h-1zM500 26h1v1h-1zM502 26h4v1h-4zM509 26h1v1h-1zM520 26h1v1h-1zM524 26h1v1h-1zM526 26h5v1h-5zM532 26h1v1h-1zM536 26h1v1h-1zM541 26h1v1h-1zM548 26h1v1h-1zM553 26h1v1h-1zM557 26h3v1h-3zM565 26h1v1h-1zM569 26h3v1h-3zM577 26h1v1h-1zM615 26h2v1h-2zM32 27h1v1h-1zM42 27h2v1h-2zM490 27h1v1h-1zM494 27h1v1h-1zM497 27h1v1h-1zM499 27h1v1h-1zM502 27h1v1h-1zM506 27h1v1h-1zM509 27h1v1h-1zM514 27h5v1h-5zM521 27h1v1h-1zM523 27h1v1h-1zM527 27h3v1h-3zM533 27h1v1h-1zM535 27h1v1h-1zM540 27h1v1h-1zM547 27h1v1h-1zM552 27h1v1h-1zM556 27h1v1h-1zM560 27h1v1h-1zM564 27h1v1h-1zM568 27h1v1h-1zM572 27h1v1h-1zM577 27h1v1h-1zM615 27h2v1h-2zM31 28h2v1h-2zM42 28h2v1h-2zM490 28h5v1h-5zM498 28h1v1h-1zM502 28h1v1h-1zM506 28h1v1h-1zM509 28h1v1h-1zM522 28h1v1h-1zM526 28h5v1h-5zM534 28h1v1h-1zM539 28h1v1h-1zM546 28h1v1h-1zM551 28h1v1h-1zM556 28h1v1h-1zM563 28h1v1h-1zM568 28h1v1h-1zM577 28h1v1h-1zM615 28h2v1h-2zM30 29h1v1h-1zM32 29h1v1h-1zM42 29h2v1h-2zM490 29h1v1h-1zM498 29h1v1h-1zM502 29h1v1h-1zM506 29h1v1h-1zM510 29h1v1h-1zM522 29h1v1h-1zM526 29h1v1h-1zM528 29h1v1h-1zM530 29h1v1h-1zM534 29h1v1h-1zM539 29h1v1h-1zM545 29h1v1h-1zM551 29h1v1h-1zM556 29h1v1h-1zM563 29h1v1h-1zM568 29h1v1h-1zM576 29h1v1h-1zM615 29h2v1h-2zM32 30h1v1h-1zM42 30h5v1h-5zM490 30h1v1h-1zM494 30h1v1h-1zM497 30h1v1h-1zM499 30h1v1h-1zM502 30h4v1h-4zM510 30h1v1h-1zM521 30h1v1h-1zM523 30h1v1h-1zM528 30h1v1h-1zM533 30h1v1h-1zM535 30h1v1h-1zM538 30h1v1h-1zM544 30h1v1h-1zM550 30h1v1h-1zM556 30h1v1h-1zM560 30h1v1h-1zM562 30h1v1h-1zM568 30h1v1h-1zM572 30h1v1h-1zM576 30h1v1h-1zM612 30h5v1h-5zM32 31h1v1h-1zM42 31h5v1h-5zM491 31h3v1h-3zM496 31h1v1h-1zM500 31h1v1h-1zM502 31h1v1h-1zM511 31h1v1h-1zM520 31h1v1h-1zM524 31h1v1h-1zM532 31h1v1h-1zM536 31h1v1h-1zM538 31h1v1h-1zM544 31h5v1h-5zM550 31h1v1h-1zM557 31h3v1h-3zM562 31h1v1h-1zM569 31h3v1h-3zM575 31h1v1h-1zM612 31h5v1h-5zM32 32h1v1h-1zM42 32h2v1h-2zM329 32h1v1h-1zM502 32h1v1h-1zM615 32h2v1h-2zM32 33h1v1h-1zM42 33h2v1h-2zM502 33h1v1h-1zM615 33h2v1h-2zM32 34h1v1h-1zM42 34h2v1h-2zM615 34h2v1h-2zM30 35h5v1h-5zM42 35h2v1h-2zM615 35h2v1h-2zM42 36h2v1h-2zM615 36h2v1h-2zM42 37h2v1h-2zM615 37h2v1h-2zM42 38h2v1h-2zM615 38h2v1h-2zM42 39h2v1h-2zM329 39h1v1h-1zM615 39h2v1h-2zM42 40h2v1h-2zM615 40h2v1h-2zM42 41h2v1h-2zM464 41h1v1h-1zM476 41h1v1h-1zM511 41h1v1h-1zM542 41h1v1h-1zM545 41h3v1h-3zM554 41h1v1h-1zM566 41h1v1h-1zM575 41h1v1h-1zM615 41h2v1h-2zM42 42h2v1h-2zM464 42h1v1h-1zM476 42h1v1h-1zM486 42h1v1h-1zM510 42h1v1h-1zM528 42h1v1h-1zM542 42h1v1h-1zM544 42h1v1h-1zM548 42h1v1h-1zM554 42h1v1h-1zM566 42h1v1h-1zM576 42h1v1h-1zM615 42h2v1h-2zM42 43h2v1h-2zM463 43h1v1h-1zM475 43h1v1h-1zM484 43h1v1h-1zM486 43h1v1h-1zM488 43h1v1h-1zM510 43h1v1h-1zM526 43h1v1h-1zM528 43h1v1h-1zM530 43h1v1h-1zM541 43h1v1h-1zM544 43h1v1h-1zM548 43h1v1h-1zM553 43h1v1h-1zM565 43h1v1h-1zM576 43h1v1h-1zM615 43h2v1h-2zM42 44h2v1h-2zM454 44h1v1h-1zM458 44h1v1h-1zM463 44h1v1h-1zM467 44h3v1h-3zM475 44h1v1h-1zM479 44h3v1h-3zM484 44h5v1h-5zM491 44h3v1h-3zM496 44h1v1h-1zM500 44h1v1h-1zM502 44h4v1h-4zM509 44h1v1h-1zM520 44h1v1h-1zM524 44h1v1h-1zM526 44h5v1h-5zM532 44h1v1h-1zM536 44h1v1h-1zM541 44h1v1h-1zM548 44h1v1h-1zM553 44h1v1h-1zM557 44h3v1h-3zM565 44h1v1h-1zM569 44h3v1h-3zM577 44h1v1h-1zM615 44h2v1h-2zM42 45h2v1h-2zM448 45h5v1h-5zM455 45h1v1h-1zM457 45h1v1h-1zM462 45h1v1h-1zM466 45h1v1h-1zM470 45h1v1h-1zM474 45h1v1h-1zM478 45h1v1h-1zM482 45h1v1h-1zM485 45h3v1h-3zM490 45h1v1h-1zM494 45h1v1h-1zM497 45h1v1h-1zM499 45h1v1h-1zM502 45h1v1h-1zM506 45h1v1h-1zM509 45h1v1h-1zM514 45h5v1h-5zM521 45h1v1h-1zM523 45h1v1h-1zM527 45h3v1h-3zM533 45h1v1h-1zM535 45h1v1h-1zM540 45h1v1h-1zM547 45h1v1h-1zM552 45h1v1h-1zM556 45h1v1h-1zM560 45h1v1h-1zM564 45h1v1h-1zM568 45h1v1h-1zM572 45h1v1h-1zM577 45h1v1h-1zM615 45h2v1h-2zM42 46h2v1h-2zM329 46h1v1h-1zM456 46h1v1h-1zM461 46h1v1h-1zM466 46h1v1h-1zM473 46h1v1h-1zM478 46h1v1h-1zM484 46h5v1h-5zM490 46h5v1h-5zM498 46h1v1h-1zM502 46h1v1h-1zM506 46h1v1h-1zM509 46h1v1h-1zM522 46h1v1h-1zM526 46h5v1h-5zM534 46h1v1h-1zM539 46h1v1h-1zM546 46h1v1h-1zM551 46h1v1h-1zM556 46h1v1h-1zM563 46h1v1h-1zM568 46h1v1h-1zM577 46h1v1h-1zM615 46h2v1h-2zM42 47h2v1h-2zM456 47h1v1h-1zM461 47h1v1h-1zM466 47h1v1h-1zM473 47h1v1h-1zM478 47h1v1h-1zM484 47h1v1h-1zM486 47h1v1h-1zM488 47h1v1h-1zM490 47h1v1h-1zM498 47h1v1h-1zM502 47h1v1h-1zM506 47h1v1h-1zM510 47h1v1h-1zM522 47h1v1h-1zM526 47h1v1h-1zM528 47h1v1h-1zM530 47h1v1h-1zM534 47h1v1h-1zM539 47h1v1h-1zM545 47h1v1h-1zM551 47h1v1h-1zM556 47h1v1h-1zM563 47h1v1h-1zM568 47h1v1h-1zM576 47h1v1h-1zM615 47h2v1h-2zM42 48h2v1h-2zM455 48h1v1h-1zM457 48h1v1h-1zM460 48h1v1h-1zM466 48h1v1h-1zM470 48h1v1h-1zM472 48h1v1h-1zM478 48h1v1h-1zM482 48h1v1h-1zM486 48h1v1h-1zM490 48h1v1h-1zM494 48h1v1h-1zM497 48h1v1h-1zM499 48h1v1h-1zM502 48h4v1h-4zM510 48h1v1h-1zM521 48h1v1h-1zM523 48h1v1h-1zM528 48h1v1h-1zM533 48h1v1h-1zM535 48h1v1h-1zM538 48h1v1h-1zM544 48h1v1h-1zM550 48h1v1h-1zM556 48h1v1h-1zM560 48h1v1h-1zM562 48h1v1h-1zM568 48h1v1h-1zM572 48h1v1h-1zM576 48h1v1h-1zM615 48h2v1h-2zM42 49h2v1h-2zM454 49h1v1h-1zM458 49h1v1h-1zM460 49h1v1h-1zM467 49h3v1h-3zM472 49h1v1h-1zM479 49h3v1h-3zM491 49h3v1h-3zM496 49h1v1h-1zM500 49h1v1h-1zM502 49h1v1h-1zM511 49h1v1h-1zM520 49h1v1h-1zM524 49h1v1h-1zM532 49h1v1h-1zM536 49h1v1h-1zM538 49h1v1h-1zM544 49h5v1h-5zM550 49h1v1h-1zM557 49h3v1h-3zM562 49h1v1h-1zM569 49h3v1h-3zM575 49h1v1h-1zM615 49h2v1h-2zM42 50h2v1h-2zM502 50h1v1h-1zM615 50h2v1h-2zM42 51h2v1h-2zM502 51h1v1h-1zM615 51h2v1h-2zM42 52h2v1h-2zM615 52h2v1h-2zM42 53h2v1h-2zM329 53h1v1h-1zM615 53h2v1h-2zM42 54h2v1h-2zM615 54h2v1h-2zM42 55h2v1h-2zM615 55h2v1h-2zM42 56h2v1h-2zM615 56h2v1h-2zM42 57h2v1h-2zM615 57h2v1h-2zM42 58h2v1h-2zM615 58h2v1h-2zM42 59h2v1h-2zM385 59h1v1h-1zM431 59h1v1h-1zM440 59h1v1h-1zM452 59h1v1h-1zM464 59h1v1h-1zM476 59h1v1h-1zM511 59h1v1h-1zM542 59h1v1h-1zM545 59h3v1h-3zM554 59h1v1h-1zM566 59h1v1h-1zM575 59h1v1h-1zM615 59h2v1h-2zM42 60h2v1h-2zM329 60h1v1h-1zM384 60h1v1h-1zM396 60h1v1h-1zM420 60h1v1h-1zM432 60h1v1h-1zM440 60h1v1h-1zM452 60h1v1h-1zM464 60h1v1h-1zM476 60h1v1h-1zM486 60h1v1h-1zM510 60h1v1h-1zM528 60h1v1h-1zM542 60h1v1h-1zM544 60h1v1h-1zM548 60h1v1h-1zM554 60h1v1h-1zM566 60h1v1h-1zM576 60h1v1h-1zM615 60h2v1h-2zM42 61h2v1h-2zM384 61h1v1h-1zM394 61h1v1h-1zM396 61h1v1h-1zM398 61h1v1h-1zM418 61h1v1h-1zM420 61h1v1h-1zM422 61h1v1h-1zM432 61h1v1h-1zM439 61h1v1h-1zM451 61h1v1h-1zM463 61h1v1h-1zM475 61h1v1h-1zM484 61h1v1h-1zM486 61h1v1h-1zM488 61h1v1h-1zM510 61h1v1h-1zM526 61h1v1h-1zM528 61h1v1h-1zM530 61h1v1h-1zM541 61h1v1h-1zM544 61h1v1h-1zM548 61h1v1h-1zM553 61h1v1h-1zM565 61h1v1h-1zM576 61h1v1h-1zM615 61h2v1h-2zM42 62h2v1h-2zM383 62h1v1h-1zM388 62h1v1h-1zM392 62h1v1h-1zM394 62h5v1h-5zM400 62h1v1h-1zM404 62h1v1h-1zM413 62h3v1h-3zM418 62h5v1h-5zM425 62h3v1h-3zM433 62h1v1h-1zM439 62h1v1h-1zM443 62h3v1h-3zM451 62h1v1h-1zM455 62h3v1h-3zM463 62h1v1h-1zM467 62h3v1h-3zM475 62h1v1h-1zM479 62h3v1h-3zM484 62h5v1h-5zM491 62h3v1h-3zM496 62h1v1h-1zM500 62h1v1h-1zM502 62h4v1h-4zM509 62h1v1h-1zM520 62h1v1h-1zM524 62h1v1h-1zM526 62h5v1h-5zM532 62h1v1h-1zM536 62h1v1h-1zM541 62h1v1h-1zM548 62h1v1h-1zM553 62h1v1h-1zM557 62h3v1h-3zM565 62h1v1h-1zM569 62h3v1h-3zM577 62h1v1h-1zM615 62h2v1h-2zM42 63h2v1h-2zM383 63h1v1h-1zM389 63h1v1h-1zM391 63h1v1h-1zM395 63h3v1h-3zM401 63h1v1h-1zM403 63h1v1h-1zM406 63h5v1h-5zM412 63h1v1h-1zM416 63h1v1h-1zM419 63h3v1h-3zM424 63h1v1h-1zM428 63h1v1h-1zM433 63h1v1h-1zM438 63h1v1h-1zM442 63h1v1h-1zM446 63h1v1h-1zM450 63h1v1h-1zM454 63h1v1h-1zM458 63h1v1h-1zM462 63h1v1h-1zM466 63h1v1h-1zM470 63h1v1h-1zM474 63h1v1h-1zM478 63h1v1h-1zM482 63h1v1h-1zM485 63h3v1h-3zM490 63h1v1h-1zM494 63h1v1h-1zM497 63h1v1h-1zM499 63h1v1h-1zM502 63h1v1h-1zM506 63h1v1h-1zM509 63h1v1h-1zM514 63h5v1h-5zM521 63h1v1h-1zM523 63h1v1h-1zM527 63h3v1h-3zM533 63h1v1h-1zM535 63h1v1h-1zM540 63h1v1h-1zM547 63h1v1h-1zM552 63h1v1h-1zM556 63h1v1h-1zM560 63h1v1h-1zM564 63h1v1h-1zM568 63h1v1h-1zM572 63h1v1h-1zM577 63h1v1h-1zM615 63h2v1h-2zM42 64h2v1h-2zM383 64h1v1h-1zM390 64h1v1h-1zM394 64h5v1h-5zM402 64h1v1h-1zM412 64h1v1h-1zM418 64h5v1h-5zM424 64h1v1h-1zM433 64h1v1h-1zM437 64h1v1h-1zM442 64h1v1h-1zM449 64h1v1h-1zM454 64h1v1h-1zM461 64h1v1h-1zM466 64h1v1h-1zM473 64h1v1h-1zM478 64h1v1h-1zM484 64h5v1h-5zM490 64h5v1h-5zM498 64h1v1h-1zM502 64h1v1h-1zM506 64h1v1h-1zM509 64h1v1h-1zM522 64h1v1h-1zM526 64h5v1h-5zM534 64h1v1h-1zM539 64h1v1h-1zM546 64h1v1h-1zM551 64h1v1h-1zM556 64h1v1h-1zM563 64h1v1h-1zM568 64h1v1h-1zM577 64h1v1h-1zM615 64h2v1h-2zM42 65h2v1h-2zM384 65h1v1h-1zM390 65h1v1h-1zM394 65h1v1h-1zM396 65h1v1h-1zM398 65h1v1h-1zM402 65h1v1h-1zM412 65h1v1h-1zM418 65h1v1h-1zM420 65h1v1h-1zM422 65h1v1h-1zM424 65h1v1h-1zM432 65h1v1h-1zM437 65h1v1h-1zM442 65h1v1h-1zM449 65h1v1h-1zM454 65h1v1h-1zM461 65h1v1h-1zM466 65h1v1h-1zM473 65h1v1h-1zM478 65h1v1h-1zM484 65h1v1h-1zM486 65h1v1h-1zM488 65h1v1h-1zM490 65h1v1h-1zM498 65h1v1h-1zM502 65h1v1h-1zM506 65h1v1h-1zM510 65h1v1h-1zM522 65h1v1h-1zM526 65h1v1h-1zM528 65h1v1h-1zM530 65h1v1h-1zM534 65h1v1h-1zM539 65h1v1h-1zM545 65h1v1h-1zM551 65h1v1h-1zM556 65h1v1h-1zM563 65h1v1h-1zM568 65h1v1h-1zM576 65h1v1h-1zM615 65h2v1h-2zM42 66h2v1h-2zM384 66h1v1h-1zM389 66h1v1h-1zM391 66h1v1h-1zM396 66h1v1h-1zM401 66h1v1h-1zM403 66h1v1h-1zM412 66h1v1h-1zM416 66h1v1h-1zM420 66h1v1h-1zM424 66h1v1h-1zM428 66h1v1h-1zM432 66h1v1h-1zM436 66h1v1h-1zM442 66h1v1h-1zM446 66h1v1h-1zM448 66h1v1h-1zM454 66h1v1h-1zM458 66h1v1h-1zM460 66h1v1h-1zM466 66h1v1h-1zM470 66h1v1h-1zM472 66h1v1h-1zM478 66h1v1h-1zM482 66h1v1h-1zM486 66h1v1h-1zM490 66h1v1h-1zM494 66h1v1h-1zM497 66h1v1h-1zM499 66h1v1h-1zM502 66h4v1h-4zM510 66h1v1h-1zM521 66h1v1h-1zM523 66h1v1h-1zM528 66h1v1h-1zM533 66h1v1h-1zM535 66h1v1h-1zM538 66h1v1h-1zM544 66h1v1h-1zM550 66h1v1h-1zM556 66h1v1h-1zM560 66h1v1h-1zM562 66h1v1h-1zM568 66h1v1h-1zM572 66h1v1h-1zM576 66h1v1h-1zM615 66h2v1h-2zM42 67h2v1h-2zM329 67h1v1h-1zM385 67h1v1h-1zM388 67h1v1h-1zM392 67h1v1h-1zM400 67h1v1h-1zM404 67h1v1h-1zM413 67h3v1h-3zM425 67h3v1h-3zM431 67h1v1h-1zM436 67h1v1h-1zM443 67h3v1h-3zM448 67h1v1h-1zM455 67h3v1h-3zM460 67h1v1h-1zM467 67h3v1h-3zM472 67h1v1h-1zM479 67h3v1h-3zM491 67h3v1h-3zM496 67h1v1h-1zM500 67h1v1h-1zM502 67h1v1h-1zM511 67h1v1h-1zM520 67h1v1h-1zM524 67h1v1h-1zM532 67h1v1h-1zM536 67h1v1h-1zM538 67h1v1h-1zM544 67h5v1h-5zM550 67h1v1h-1zM557 67h3v1h-3zM562 67h1v1h-1zM569 67h3v1h-3zM575 67h1v1h-1zM615 67h2v1h-2zM42 68h2v1h-2zM502 68h1v1h-1zM615 68h2v1h-2zM42 69h2v1h-2zM502 69h1v1h-1zM615 69h2v1h-2zM42 70h2v1h-2zM615 70h2v1h-2zM42 71h2v1h-2zM615 71h2v1h-2zM42 72h2v1h-2zM615 72h2v1h-2zM42 73h2v1h-2zM615 73h2v1h-2zM42 74h2v1h-2zM329 74h1v1h-1zM615 74h2v1h-2zM42 75h2v1h-2zM615 75h2v1h-2zM42 76h2v1h-2zM615 76h2v1h-2zM42 77h2v1h-2zM615 77h2v1h-2zM20 78h1v1h-1zM31 78h3v1h-3zM42 78h2v1h-2zM615 78h2v1h-2zM19 79h1v1h-1zM21 79h1v1h-1zM30 79h1v1h-1zM34 79h1v1h-1zM42 79h2v1h-2zM615 79h2v1h-2zM18 80h1v1h-1zM22 80h1v1h-1zM30 80h1v1h-1zM34 80h1v1h-1zM42 80h2v1h-2zM615 80h2v1h-2zM18 81h1v1h-1zM22 81h1v1h-1zM30 81h1v1h-1zM34 81h1v1h-1zM42 81h5v1h-5zM329 81h1v1h-1zM612 81h5v1h-5zM18 82h1v1h-1zM22 82h1v1h-1zM31 82h3v1h-3zM42 82h5v1h-5zM612 82h5v1h-5zM18 83h1v1h-1zM22 83h1v1h-1zM30 83h1v1h-1zM34 83h1v1h-1zM42 83h2v1h-2zM615 83h2v1h-2zM18 84h1v1h-1zM22 84h1v1h-1zM30 84h1v1h-1zM34 84h1v1h-1zM42 84h2v1h-2zM615 84h2v1h-2zM19 85h1v1h-1zM21 85h1v1h-1zM26 85h1v1h-1zM30 85h1v1h-1zM34 85h1v1h-1zM42 85h2v1h-2zM615 85h2v1h-2zM20 86h1v1h-1zM25 86h3v1h-3zM31 86h3v1h-3zM42 86h2v1h-2zM615 86h2v1h-2zM26 87h1v1h-1zM42 87h2v1h-2zM615 87h2v1h-2zM42 88h2v1h-2zM329 88h1v1h-1zM615 88h2v1h-2zM42 89h2v1h-2zM615 89h2v1h-2zM42 90h2v1h-2zM615 90h2v1h-2zM42 91h2v1h-2zM615 91h2v1h-2zM42 92h2v1h-2zM615 92h2v1h-2zM42 93h2v1h-2zM615 93h2v1h-2zM42 94h2v1h-2zM615 94h2v1h-2zM42 95h2v1h-2zM329 95h1v1h-1zM615 95h2v1h-2zM42 96h2v1h-2zM615 96h2v1h-2zM42 97h2v1h-2zM615 97h2v1h-2zM42 98h2v1h-2zM615 98h2v1h-2zM42 99h2v1h-2zM615 99h2v1h-2zM42 100h2v1h-2zM615 100h2v1h-2zM42 101h2v1h-2zM615 101h2v1h-2zM42 102h2v1h-2zM329 102h1v1h-1zM615 102h2v1h-2zM42 103h2v1h-2zM615 103h2v1h-2zM42 104h2v1h-2zM615 104h2v1h-2zM42 105h2v1h-2zM615 105h2v1h-2zM42 106h2v1h-2zM615 106h2v1h-2zM42 107h2v1h-2zM615 107h2v1h-2zM42 108h2v1h-2zM615 108h2v1h-2zM42 109h2v1h-2zM329 109h1v1h-1zM615 109h2v1h-2zM42 110h2v1h-2zM615 110h2v1h-2zM42 111h2v1h-2zM615 111h2v1h-2zM42 112h2v1h-2zM615 112h2v1h-2zM42 113h2v1h-2zM615 113h2v1h-2zM42 114h2v1h-2zM615 114h2v1h-2zM42 115h2v1h-2zM615 115h2v1h-2zM42 116h2v1h-2zM329 116h1v1h-1zM615 116h2v1h-2zM42 117h2v1h-2zM615 117h2v1h-2zM42 118h2v1h-2zM615 118h2v1h-2zM42 119h2v1h-2zM615 119h2v1h-2zM42 120h2v1h-2zM615 120h2v1h-2zM42 121h2v1h-2zM615 121h2v1h-2zM42 122h2v1h-2zM615 122h2v1h-2zM42 123h2v1h-2zM329 123h1v1h-1zM615 123h2v1h-2zM42 124h2v1h-2zM615 124h2v1h-2zM42 125h2v1h-2zM615 125h2v1h-2zM42 126h2v1h-2zM615 126h2v1h-2zM42 127h2v1h-2zM615 127h2v1h-2zM42 128h2v1h-2zM615 128h2v1h-2zM42 129h2v1h-2zM615 129h2v1h-2zM20 130h1v1h-1zM31 130h3v1h-3zM42 130h2v1h-2zM329 130h1v1h-1zM615 130h2v1h-2zM19 131h1v1h-1zM21 131h1v1h-1zM30 131h1v1h-1zM34 131h1v1h-1zM42 131h2v1h-2zM615 131h2v1h-2zM18 132h1v1h-1zM22 132h1v1h-1zM30 132h1v1h-1zM42 132h2v1h-2zM615 132h2v1h-2zM18 133h1v1h-1zM22 133h1v1h-1zM30 133h1v1h-1zM42 133h5v1h-5zM612 133h5v1h-5zM18 134h1v1h-1zM22 134h1v1h-1zM30 134h4v1h-4zM42 134h5v1h-5zM612 134h5v1h-5zM18 135h1v1h-1zM22 135h1v1h-1zM30 135h1v1h-1zM34 135h1v1h-1zM42 135h2v1h-2zM615 135h2v1h-2zM18 136h1v1h-1zM22 136h1v1h-1zM30 136h1v1h-1zM34 136h1v1h-1zM42 136h2v1h-2zM615 136h2v1h-2zM19 137h1v1h-1zM21 137h1v1h-1zM26 137h1v1h-1zM30 137h1v1h-1zM34 137h1v1h-1zM42 137h2v1h-2zM329 137h1v1h-1zM615 137h2v1h-2zM20 138h1v1h-1zM25 138h3v1h-3zM31 138h3v1h-3zM42 138h2v1h-2zM615 138h2v1h-2zM26 139h1v1h-1zM42 139h2v1h-2zM615 139h2v1h-2zM42 140h2v1h-2zM615 140h2v1h-2zM42 141h2v1h-2zM615 141h2v1h-2zM42 142h2v1h-2zM615 142h2v1h-2zM42 143h2v1h-2zM615 143h2v1h-2zM42 144h2v1h-2zM329 144h1v1h-1zM615 144h2v1h-2zM42 145h2v1h-2zM615 145h2v1h-2zM42 146h2v1h-2zM615 146h2v1h-2zM42 147h2v1h-2zM615 147h2v1h-2zM42 148h2v1h-2zM615 148h2v1h-2zM42 149h2v1h-2zM615 149h2v1h-2zM42 150h2v1h-2zM615 150h2v1h-2zM42 151h2v1h-2zM329 151h1v1h-1zM615 151h2v1h-2zM42 152h2v1h-2zM615 152h2v1h-2zM42 153h2v1h-2zM615 153h2v1h-2zM42 154h2v1h-2zM615 154h2v1h-2zM42 155h2v1h-2zM615 155h2v1h-2zM42 156h2v1h-2zM615 156h2v1h-2zM42 157h2v1h-2zM615 157h2v1h-2zM42 158h2v1h-2zM329 158h1v1h-1zM615 158h2v1h-2zM42 159h2v1h-2zM615 159h2v1h-2zM42 160h2v1h-2zM615 160h2v1h-2zM42 161h2v1h-2zM615 161h2v1h-2zM42 162h2v1h-2zM615 162h2v1h-2zM42 163h2v1h-2zM615 163h2v1h-2zM42 164h2v1h-2zM615 164h2v1h-2zM42 165h2v1h-2zM329 165h1v1h-1zM615 165h2v1h-2zM42 166h2v1h-2zM615 166h2v1h-2zM42 167h2v1h-2zM615 167h2v1h-2zM42 168h2v1h-2zM615 168h2v1h-2zM42 169h2v1h-2zM615 169h2v1h-2zM42 170h2v1h-2zM615 170h2v1h-2zM42 171h2v1h-2zM615 171h2v1h-2zM42 172h2v1h-2zM329 172h1v1h-1zM615 172h2v1h-2zM42 173h2v1h-2zM615 173h2v1h-2zM42 174h2v1h-2zM615 174h2v1h-2zM42 175h2v1h-2zM615 175h2v1h-2zM42 176h2v1h-2zM615 176h2v1h-2zM42 177h2v1h-2zM615 177h2v1h-2zM42 178h2v1h-2zM615 178h2v1h-2zM42 179h2v1h-2zM329 179h1v1h-1zM615 179h2v1h-2zM42 180h2v1h-2zM615 180h2v1h-2zM20 181h1v1h-1zM33 181h1v1h-1zM42 181h2v1h-2zM615 181h2v1h-2zM19 182h1v1h-1zM21 182h1v1h-1zM33 182h1v1h-1zM42 182h2v1h-2zM615 182h2v1h-2zM18 183h1v1h-1zM22 183h1v1h-1zM32 183h2v1h-2zM42 183h2v1h-2zM615 183h2v1h-2zM18 184h1v1h-1zM22 184h1v1h-1zM31 184h1v1h-1zM33 184h1v1h-1zM42 184h5v1h-5zM612 184h5v1h-5zM18 185h1v1h-1zM22 185h1v1h-1zM31 185h1v1h-1zM33 185h1v1h-1zM42 185h5v1h-5zM612 185h5v1h-5zM18 186h1v1h-1zM22 186h1v1h-1zM30 186h1v1h-1zM33 186h1v1h-1zM42 186h2v1h-2zM329 186h1v1h-1zM615 186h2v1h-2zM18 187h1v1h-1zM22 187h1v1h-1zM30 187h5v1h-5zM42 187h2v1h-2zM615 187h2v1h-2zM19 188h1v1h-1zM21 188h1v1h-1zM26 188h1v1h-1zM33 188h1v1h-1zM42 188h2v1h-2zM615 188h2v1h-2zM20 189h1v1h-1zM25 189h3v1h-3zM33 189h1v1h-1zM42 189h2v1h-2zM615 189h2v1h-2zM26 190h1v1h-1zM42 190h2v1h-2zM615 190h2v1h-2zM42 191h2v1h-2zM615 191h2v1h-2zM42 192h2v1h-2zM615 192h2v1h-2zM42 193h2v1h-2zM329 193h1v1h-1zM615 193h2v1h-2zM42 194h2v1h-2zM615 194h2v1h-2zM42 195h2v1h-2zM615 195h2v1h-2zM42 196h2v1h-2zM615 196h2v1h-2zM42 197h2v1h-2zM615 197h2v1h-2zM42 198h2v1h-2zM615 198h2v1h-2zM42 199h2v1h-2zM615 199h2v1h-2zM42 200h2v1h-2zM329 200h1v1h-1zM615 200h2v1h-2zM42 201h2v1h-2zM615 201h2v1h-2zM42 202h2v1h-2zM615 202h2v1h-2zM42 203h2v1h-2zM615 203h2v1h-2zM42 204h2v1h-2zM615 204h2v1h-2zM42 205h2v1h-2zM615 205h2v1h-2zM42 206h2v1h-2zM615 206h2v1h-2zM42 207h2v1h-2zM329 207h1v1h-1zM615 207h2v1h-2zM42 208h2v1h-2zM615 208h2v1h-2zM42 209h2v1h-2zM615 209h2v1h-2zM42 210h2v1h-2zM615 210h2v1h-2zM42 211h2v1h-2zM615 211h2v1h-2zM42 212h2v1h-2zM615 212h2v1h-2zM42 213h2v1h-2zM615 213h2v1h-2zM42 214h2v1h-2zM329 214h1v1h-1zM615 214h2v1h-2zM42 215h2v1h-2zM615 215h2v1h-2zM42 216h2v1h-2zM615 216h2v1h-2zM42 217h2v1h-2zM615 217h2v1h-2zM42 218h2v1h-2zM615 218h2v1h-2zM42 219h2v1h-2zM615 219h2v1h-2zM42 220h2v1h-2zM615 220h2v1h-2zM42 221h2v1h-2zM329 221h1v1h-1zM615 221h2v1h-2zM42 222h2v1h-2zM615 222h2v1h-2zM42 223h2v1h-2zM615 223h2v1h-2zM42 224h2v1h-2zM615 224h2v1h-2zM42 225h2v1h-2zM615 225h2v1h-2zM42 226h2v1h-2zM615 226h2v1h-2zM42 227h2v1h-2zM615 227h2v1h-2zM42 228h2v1h-2zM329 228h1v1h-1zM615 228h2v1h-2zM42 229h2v1h-2zM615 229h2v1h-2zM42 230h2v1h-2zM615 230h2v1h-2zM42 231h2v1h-2zM615 231h2v1h-2zM42 232h2v1h-2zM615 232h2v1h-2zM20 233h1v1h-1zM31 233h3v1h-3zM42 233h2v1h-2zM615 233h2v1h-2zM19 234h1v1h-1zM21 234h1v1h-1zM30 234h1v1h-1zM34 234h1v1h-1zM42 234h2v1h-2zM615 234h2v1h-2zM18 235h1v1h-1zM22 235h1v1h-1zM30 235h1v1h-1zM34 235h1v1h-1zM42 235h2v1h-2zM329 235h1v1h-1zM615 235h2v1h-2zM18 236h1v1h-1zM22 236h1v1h-1zM34 236h1v1h-1zM42 236h5v1h-5zM612 236h5v1h-5zM18 237h1v1h-1zM22 237h1v1h-1zM33 237h1v1h-1zM42 237h5v1h-5zM612 237h5v1h-5zM18 238h1v1h-1zM22 238h1v1h-1zM32 238h1v1h-1zM42 238h2v1h-2zM615 238h2v1h-2zM18 239h1v1h-1zM22 239h1v1h-1zM31 239h1v1h-1zM42 239h2v1h-2zM615 239h2v1h-2zM19 240h1v1h-1zM21 240h1v1h-1zM26 240h1v1h-1zM30 240h1v1h-1zM42 240h2v1h-2zM615 240h2v1h-2zM20 241h1v1h-1zM25 241h3v1h-3zM30 241h5v1h-5zM42 241h2v1h-2zM615 241h2v1h-2zM26 242h1v1h-1zM42 242h2v1h-2zM329 242h1v1h-1zM615 242h2v1h-2zM42 243h2v1h-2zM615 243h2v1h-2zM42 244h2v1h-2zM615 244h2v1h-2zM42 245h2v1h-2zM615 245h2v1h-2zM42 246h2v1h-2zM615 246h2v1h-2zM42 247h2v1h-2zM615 247h2v1h-2zM42 248h2v1h-2zM615 248h2v1h-2zM42 249h2v1h-2zM329 249h1v1h-1zM615 249h2v1h-2zM42 250h2v1h-2zM615 250h2v1h-2zM42 251h2v1h-2zM615 251h2v1h-2zM42 252h2v1h-2zM615 252h2v1h-2zM42 253h2v1h-2zM615 253h2v1h-2zM42 254h2v1h-2zM615 254h2v1h-2zM42 255h2v1h-2zM615 255h2v1h-2zM42 256h2v1h-2zM329 256h1v1h-1zM615 256h2v1h-2zM42 257h2v1h-2zM615 257h2v1h-2zM42 258h2v1h-2zM615 258h2v1h-2zM42 259h2v1h-2zM615 259h2v1h-2zM42 260h2v1h-2zM615 260h2v1h-2zM42 261h2v1h-2zM615 261h2v1h-2zM42 262h2v1h-2zM615 262h2v1h-2zM42 263h2v1h-2zM329 263h1v1h-1zM615 263h2v1h-2zM42 264h2v1h-2zM615 264h2v1h-2zM42 265h2v1h-2zM615 265h2v1h-2zM42 266h2v1h-2zM615 266h2v1h-2zM42 267h2v1h-2zM615 267h2v1h-2zM42 268h2v1h-2zM615 268h2v1h-2zM42 269h2v1h-2zM615 269h2v1h-2zM42 270h2v1h-2zM329 270h1v1h-1zM615 270h2v1h-2zM42 271h2v1h-2zM615 271h2v1h-2zM42 272h2v1h-2zM615 272h2v1h-2zM42 273h2v1h-2zM615 273h2v1h-2zM42 274h2v1h-2zM615 274h2v1h-2zM42 275h2v1h-2zM615 275h2v1h-2zM42 276h2v1h-2zM615 276h2v1h-2zM42 277h2v1h-2zM329 277h1v1h-1zM615 277h2v1h-2zM42 278h2v1h-2zM615 278h2v1h-2zM42 279h2v1h-2zM615 279h2v1h-2zM42 280h2v1h-2zM615 280h2v1h-2zM42 281h2v1h-2zM615 281h2v1h-2zM42 282h2v1h-2zM615 282h2v1h-2zM42 283h2v1h-2zM615 283h2v1h-2zM32 284h1v1h-1zM42 284h2v1h-2zM329 284h1v1h-1zM615 284h2v1h-2zM31 285h1v1h-1zM33 285h1v1h-1zM42 285h2v1h-2zM615 285h2v1h-2zM30 286h1v1h-1zM34 286h1v1h-1zM42 286h2v1h-2zM615 286h2v1h-2zM30 287h1v1h-1zM34 287h1v1h-1zM42 287h5v1h-5zM612 287h5v1h-5zM30 288h1v1h-1zM34 288h1v1h-1zM42 288h2v1h-2zM120 288h1v1h-1zM127 288h1v1h-1zM134 288h1v1h-1zM141 288h1v1h-1zM148 288h1v1h-1zM155 288h1v1h-1zM162 288h1v1h-1zM169 288h1v1h-1zM176 288h1v1h-1zM183 288h1v1h-1zM190 288h1v1h-1zM197 288h1v1h-1zM204 288h1v1h-1zM211 288h1v1h-1zM218 288h1v1h-1zM225 288h1v1h-1zM232 288h1v1h-1zM239 288h1v1h-1zM246 288h1v1h-1zM253 288h1v1h-1zM260 288h1v1h-1zM274 288h1v1h-1zM281 288h1v1h-1zM288 288h1v1h-1zM295 288h1v1h-1zM302 288h1v1h-1zM309 288h1v1h-1zM316 288h1v1h-1zM323 288h1v1h-1zM330 288h1v1h-1zM337 288h1v1h-1zM344 288h1v1h-1zM351 288h1v1h-1zM358 288h1v1h-1zM365 288h1v1h-1zM372 288h1v1h-1zM379 288h1v1h-1zM386 288h1v1h-1zM393 288h1v1h-1zM400 288h1v1h-1zM407 288h1v1h-1zM414 288h1v1h-1zM421 288h1v1h-1zM428 288h1v1h-1zM435 288h1v1h-1zM442 288h1v1h-1zM449 288h1v1h-1zM456 288h1v1h-1zM463 288h1v1h-1zM470 288h1v1h-1zM477 288h1v1h-1zM484 288h1v1h-1zM491 288h1v1h-1zM498 288h1v1h-1zM505 288h1v1h-1zM512 288h1v1h-1zM519 288h1v1h-1zM526 288h1v1h-1zM533 288h1v1h-1zM540 288h1v1h-1zM615 288h2v1h-2zM30 289h1v1h-1zM34 289h1v1h-1zM42 289h2v1h-2zM615 289h2v1h-2zM30 290h1v1h-1zM34 290h1v1h-1zM42 290h2v1h-2zM615 290h2v1h-2zM31 291h1v1h-1zM33 291h1v1h-1zM42 291h2v1h-2zM329 291h1v1h-1zM615 291h2v1h-2zM32 292h1v1h-1zM42 292h2v1h-2zM615 292h2v1h-2zM42 293h2v1h-2zM615 293h2v1h-2zM42 294h2v1h-2zM615 294h2v1h-2zM42 295h2v1h-2zM615 295h2v1h-2zM42 296h2v1h-2zM615 296h2v1h-2zM42 297h2v1h-2zM615 297h2v1h-2zM42 298h2v1h-2zM329 298h1v1h-1zM615 298h2v1h-2zM42 299h2v1h-2zM615 299h2v1h-2zM42 300h2v1h-2zM615 300h2v1h-2zM42 301h2v1h-2zM615 301h2v1h-2zM42 302h2v1h-2zM615 302h2v1h-2zM42 303h2v1h-2zM615 303h2v1h-2zM42 304h2v1h-2zM615 304h2v1h-2zM42 305h2v1h-2zM329 305h1v1h-1zM615 305h2v1h-2zM42 306h2v1h-2zM615 306h2v1h-2zM42 307h2v1h-2zM615 307h2v1h-2zM42 308h2v1h-2zM615 308h2v1h-2zM42 309h2v1h-2zM615 309h2v1h-2zM42 310h2v1h-2zM615 310h2v1h-2zM42 311h2v1h-2zM615 311h2v1h-2zM42 312h2v1h-2zM329 312h1v1h-1zM615 312h2v1h-2zM42 313h2v1h-2zM615 313h2v1h-2zM42 314h2v1h-2zM615 314h2v1h-2zM42 315h2v1h-2zM615 315h2v1h-2zM42 316h2v1h-2zM615 316h2v1h-2zM42 317h2v1h-2zM615 317h2v1h-2zM42 318h2v1h-2zM615 318h2v1h-2zM42 319h2v1h-2zM329 319h1v1h-1zM615 319h2v1h-2zM42 320h2v1h-2zM615 320h2v1h-2zM42 321h2v1h-2zM615 321h2v1h-2zM42 322h2v1h-2zM615 322h2v1h-2zM42 323h2v1h-2zM615 323h2v1h-2zM42 324h2v1h-2zM615 324h2v1h-2zM42 325h2v1h-2zM615 325h2v1h-2zM42 326h2v1h-2zM329 326h1v1h-1zM615 326h2v1h-2zM42 327h2v1h-2zM615 327h2v1h-2zM42 328h2v1h-2zM615 328h2v1h-2zM42 329h2v1h-2zM615 329h2v1h-2zM42 330h2v1h-2zM615 330h2v1h-2zM42 331h2v1h-2zM615 331h2v1h-2zM42 332h2v1h-2zM615 332h2v1h-2zM42 333h2v1h-2zM329 333h1v1h-1zM615 333h2v1h-2zM42 334h2v1h-2zM615 334h2v1h-2zM20 335h1v1h-1zM31 335h3v1h-3zM42 335h2v1h-2zM615 335h2v1h-2zM19 336h1v1h-1zM21 336h1v1h-1zM30 336h1v1h-1zM34 336h1v1h-1zM42 336h2v1h-2zM615 336h2v1h-2zM18 337h1v1h-1zM22 337h1v1h-1zM30 337h1v1h-1zM34 337h1v1h-1zM42 337h2v1h-2zM615 337h2v1h-2zM18 338h1v1h-1zM22 338h1v1h-1zM34 338h1v1h-1zM42 338h5v1h-5zM612 338h5v1h-5zM12 339h5v1h-5zM18 339h1v1h-1zM22 339h1v1h-1zM33 339h1v1h-1zM42 339h5v1h-5zM612 339h5v1h-5zM18 340h1v1h-1zM22 340h1v1h-1zM32 340h1v1h-1zM42 340h2v1h-2zM329 340h1v1h-1zM615 340h2v1h-2zM18 341h1v1h-1zM22 341h1v1h-1zM31 341h1v1h-1zM42 341h2v1h-2zM615 341h2v1h-2zM19 342h1v1h-1zM21 342h1v1h-1zM26 342h1v1h-1zM30 342h1v1h-1zM42 342h2v1h-2zM615 342h2v1h-2zM20 343h1v1h-1zM25 343h3v1h-3zM30 343h5v1h-5zM42 343h2v1h-2zM615 343h2v1h-2zM26 344h1v1h-1zM42 344h2v1h-2zM615 344h2v1h-2zM42 345h2v1h-2zM615 345h2v1h-2zM42 346h2v1h-2zM615 346h2v1h-2zM42 347h2v1h-2zM329 347h1v1h-1zM615 347h2v1h-2zM42 348h2v1h-2zM615 348h2v1h-2zM42 349h2v1h-2zM615 349h2v1h-2zM42 350h2v1h-2zM615 350h2v1h-2zM42 351h2v1h-2zM615 351h2v1h-2zM42 352h2v1h-2zM615 352h2v1h-2zM42 353h2v1h-2zM615 353h2v1h-2zM42 354h2v1h-2zM329 354h1v1h-1zM615 354h2v1h-2zM42 355h2v1h-2zM615 355h2v1h-2zM42 356h2v1h-2zM615 356h2v1h-2zM42 357h2v1h-2zM615 357h2v1h-2zM42 358h2v1h-2zM615 358h2v1h-2zM42 359h2v1h-2zM615 359h2v1h-2zM42 360h2v1h-2zM615 360h2v1h-2zM42 361h2v1h-2zM329 361h1v1h-1zM615 361h2v1h-2zM42 362h2v1h-2zM615 362h2v1h-2zM42 363h2v1h-2zM615 363h2v1h-2zM42 364h2v1h-2zM615 364h2v1h-2zM42 365h2v1h-2zM615 365h2v1h-2zM42 366h2v1h-2zM615 366h2v1h-2zM42 367h2v1h-2zM615 367h2v1h-2zM42 368h2v1h-2zM329 368h1v1h-1zM615 368h2v1h-2zM42 369h2v1h-2zM615 369h2v1h-2zM42 370h2v1h-2zM615 370h2v1h-2zM42 371h2v1h-2zM615 371h2v1h-2zM42 372h2v1h-2zM615 372h2v1h-2zM42 373h2v1h-2zM615 373h2v1h-2zM42 374h2v1h-2zM615 374h2v1h-2zM42 375h2v1h-2zM329 375h1v1h-1zM615 375h2v1h-2zM42 376h2v1h-2zM615 376h2v1h-2zM42 377h2v1h-2zM615 377h2v1h-2zM42 378h2v1h-2zM615 378h2v1h-2zM42 379h2v1h-2zM615 379h2v1h-2zM42 380h2v1h-2zM615 380h2v1h-2zM42 381h2v1h-2zM615 381h2v1h-2zM42 382h2v1h-2zM329 382h1v1h-1zM615 382h2v1h-2zM42 383h2v1h-2zM615 383h2v1h-2zM42 384h2v1h-2zM615 384h2v1h-2zM42 385h2v1h-2zM615 385h2v1h-2zM42 386h2v1h-2zM615 386h2v1h-2zM20 387h1v1h-1zM33 387h1v1h-1zM42 387h2v1h-2zM615 387h2v1h-2zM19 388h1v1h-1zM21 388h1v1h-1zM33 388h1v1h-1zM42 388h2v1h-2zM615 388h2v1h-2zM18 389h1v1h-1zM22 389h1v1h-1zM32 389h2v1h-2zM42 389h2v1h-2zM329 389h1v1h-1zM615 389h2v1h-2zM18 390h1v1h-1zM22 390h1v1h-1zM31 390h1v1h-1zM33 390h1v1h-1zM42 390h5v1h-5zM612 390h5v1h-5zM12 391h5v1h-5zM18 391h1v1h-1zM22 391h1v1h-1zM31 391h1v1h-1zM33 391h1v1h-1zM42 391h5v1h-5zM612 391h5v1h-5zM18 392h1v1h-1zM22 392h1v1h-1zM30 392h1v1h-1zM33 392h1v1h-1zM42 392h2v1h-2zM615 392h2v1h-2zM18 393h1v1h-1zM22 393h1v1h-1zM30 393h5v1h-5zM42 393h2v1h-2zM615 393h2v1h-2zM19 394h1v1h-1zM21 394h1v1h-1zM26 394h1v1h-1zM33 394h1v1h-1zM42 394h2v1h-2zM615 394h2v1h-2zM20 395h1v1h-1zM25 395h3v1h-3zM33 395h1v1h-1zM42 395h2v1h-2zM615 395h2v1h-2zM26 396h1v1h-1zM42 396h2v1h-2zM329 396h1v1h-1zM615 396h2v1h-2zM42 397h2v1h-2zM615 397h2v1h-2zM42 398h2v1h-2zM615 398h2v1h-2zM42 399h2v1h-2zM615 399h2v1h-2zM42 400h2v1h-2zM615 400h2v1h-2zM42 401h2v1h-2zM615 401h2v1h-2zM42 402h2v1h-2zM615 402h2v1h-2zM42 403h2v1h-2zM329 403h1v1h-1zM615 403h2v1h-2zM42 404h2v1h-2zM615 404h2v1h-2zM42 405h2v1h-2zM615 405h2v1h-2zM42 406h2v1h-2zM615 406h2v1h-2zM42 407h2v1h-2zM615 407h2v1h-2zM42 408h2v1h-2zM615 408h2v1h-2zM42 409h2v1h-2zM615 409h2v1h-2zM42 410h2v1h-2zM329 410h1v1h-1zM615 410h2v1h-2zM42 411h2v1h-2zM615 411h2v1h-2zM42 412h2v1h-2zM82 412h2v1h-2zM164 412h2v1h-2zM246 412h2v1h-2zM328 412h2v1h-2zM410 412h2v1h-2zM492 412h2v1h-2zM574 412h2v1h-2zM615 412h2v1h-2zM42 413h2v1h-2zM82 413h2v1h-2zM164 413h2v1h-2zM246 413h2v1h-2zM328 413h2v1h-2zM410 413h2v1h-2zM492 413h2v1h-2zM574 413h2v1h-2zM615 413h2v1h-2zM42 414h2v1h-2zM82 414h2v1h-2zM164 414h2v1h-2zM246 414h2v1h-2zM328 414h2v1h-2zM410 414h2v1h-2zM492 414h2v1h-2zM574 414h2v1h-2zM615 414h2v1h-2zM42 415h2v1h-2zM82 415h2v1h-2zM164 415h2v1h-2zM246 415h2v1h-2zM328 415h2v1h-2zM410 415h2v1h-2zM492 415h2v1h-2zM574 415h2v1h-2zM615 415h2v1h-2zM42 416h575v1h-575zM43 417h573v1h-573zM84 430h3v1h-3zM168 430h1v1h-1zM248 430h3v1h-3zM328 430h1v1h-1zM409 430h3v1h-3zM493 430h1v1h-1zM573 430h3v1h-3zM83 431h1v1h-1zM87 431h1v1h-1zM168 431h1v1h-1zM247 431h1v1h-1zM251 431h1v1h-1zM327 431h1v1h-1zM329 431h1v1h-1zM408 431h1v1h-1zM412 431h1v1h-1zM493 431h1v1h-1zM572 431h1v1h-1zM576 431h1v1h-1zM83 432h1v1h-1zM167 432h2v1h-2zM247 432h1v1h-1zM251 432h1v1h-1zM326 432h1v1h-1zM330 432h1v1h-1zM408 432h1v1h-1zM412 432h1v1h-1zM492 432h2v1h-2zM572 432h1v1h-1zM83 433h1v1h-1zM166 433h1v1h-1zM168 433h1v1h-1zM251 433h1v1h-1zM326 433h1v1h-1zM330 433h1v1h-1zM412 433h1v1h-1zM491 433h1v1h-1zM493 433h1v1h-1zM572 433h1v1h-1zM77 434h5v1h-5zM83 434h4v1h-4zM159 434h5v1h-5zM166 434h1v1h-1zM168 434h1v1h-1zM241 434h5v1h-5zM250 434h1v1h-1zM326 434h1v1h-1zM330 434h1v1h-1zM411 434h1v1h-1zM491 434h1v1h-1zM493 434h1v1h-1zM572 434h4v1h-4zM83 435h1v1h-1zM87 435h1v1h-1zM165 435h1v1h-1zM168 435h1v1h-1zM249 435h1v1h-1zM326 435h1v1h-1zM330 435h1v1h-1zM410 435h1v1h-1zM490 435h1v1h-1zM493 435h1v1h-1zM572 435h1v1h-1zM576 435h1v1h-1zM83 436h1v1h-1zM87 436h1v1h-1zM165 436h5v1h-5zM248 436h1v1h-1zM326 436h1v1h-1zM330 436h1v1h-1zM409 436h1v1h-1zM490 436h5v1h-5zM572 436h1v1h-1zM576 436h1v1h-1zM83 437h1v1h-1zM87 437h1v1h-1zM168 437h1v1h-1zM247 437h1v1h-1zM327 437h1v1h-1zM329 437h1v1h-1zM408 437h1v1h-1zM493 437h1v1h-1zM572 437h1v1h-1zM576 437h1v1h-1zM84 438h3v1h-3zM168 438h1v1h-1zM247 438h5v1h-5zM328 438h1v1h-1zM408 438h5v1h-5zM493 438h1v1h-1zM573 438h3v1h-3z"/>
</svg>
</body>
</html>
